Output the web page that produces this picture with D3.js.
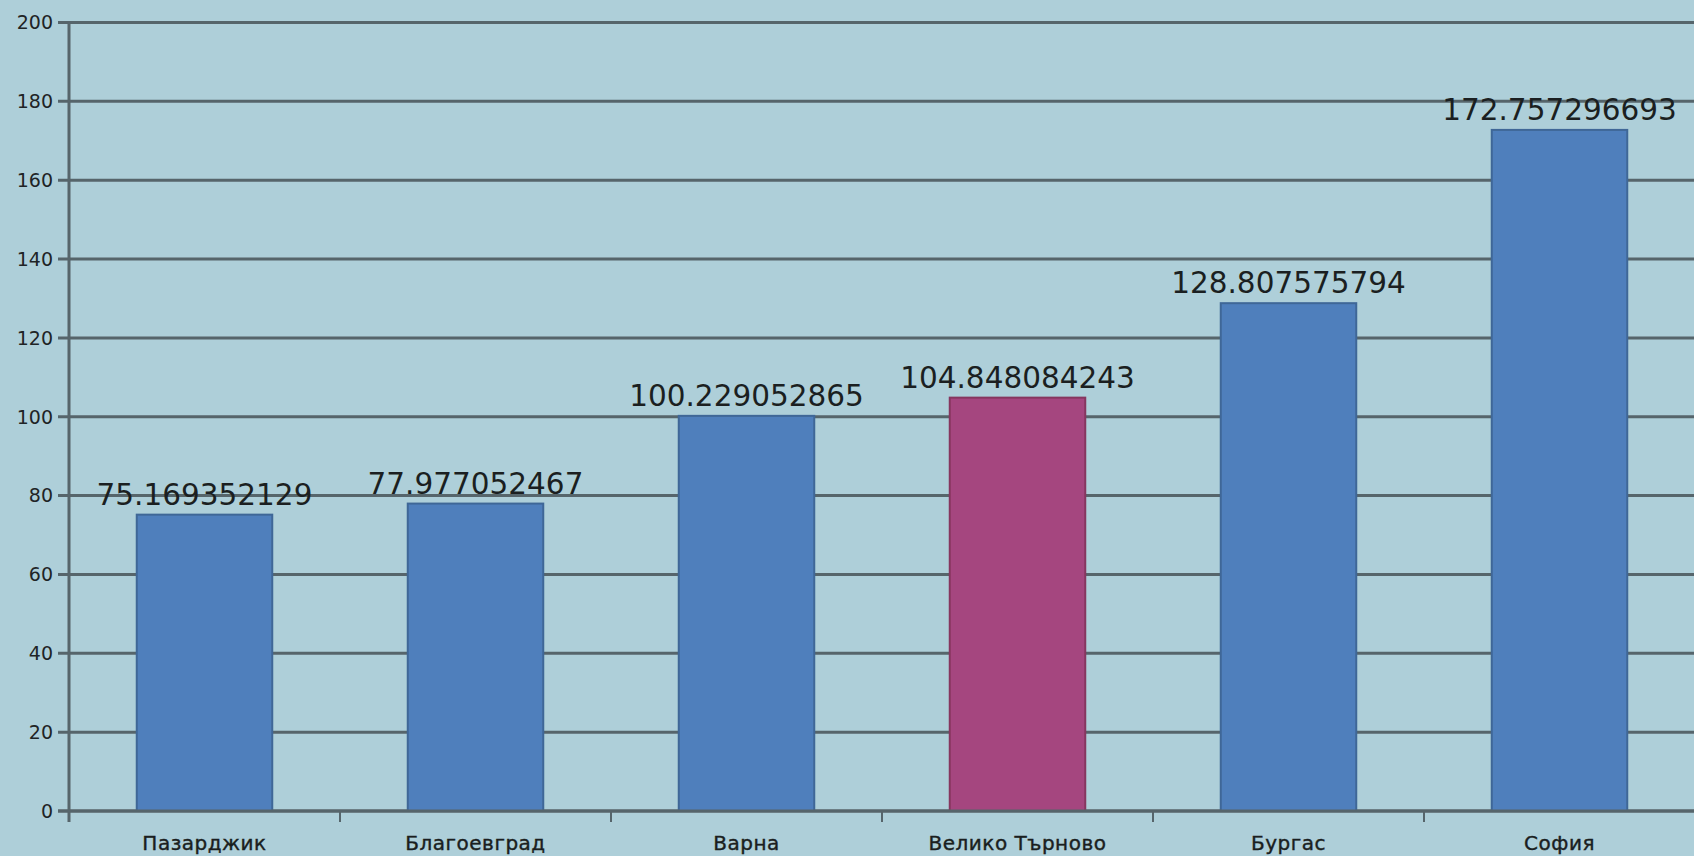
<!DOCTYPE html>
<html>
<head>
<meta charset="utf-8">
<script src="https://cdn.jsdelivr.net/npm/d3@7"></script>
<style>
  html, body { margin: 0; padding: 0; background: #aecfd9; }
  svg { display: block; }
</style>
</head>
<body>
<svg id="chart" width="1694" height="856"></svg>
<script>
// Cities and their index values
const cities = ["Пазарджик", "Благоевград", "Варна", "Велико Търново", "Бургас", "София"];
const values = [75.169352129, 77.977052467, 100.229052865, 104.848084243, 128.807575794, 172.757296693];
const valueLabels = ["75.169352129", "77.977052467", "100.229052865", "104.848084243", "128.807575794", "172.757296693"];
const highlighted = ["Велико Търново"];
const yTicks = [0, 20, 40, 60, 80, 100, 120, 140, 160, 180, 200];

const W = 1694, H = 856;
const margin = { left: 69, top: 22.5, bottom: 811 };
const plotRight = 69 + 6 * 271;

const svg = d3.select("#chart");

const x = d3.scaleBand()
  .domain(cities)
  .range([margin.left, plotRight])
  .paddingInner(0.5)
  .paddingOuter(0.25);

const y = d3.scaleLinear()
  .domain([0, 200])
  .range([margin.bottom, margin.top]);

const gridColor = "#56656b";

// Horizontal gridlines with short ticks to the left of the axis
svg.append("g")
  .selectAll("line")
  .data(yTicks)
  .join("line")
  .attr("x1", margin.left - 11)
  .attr("x2", W)
  .attr("y1", d => y(d))
  .attr("y2", d => y(d))
  .attr("stroke", gridColor)
  .attr("stroke-width", 3);

// Y tick labels
svg.append("g")
  .selectAll("text")
  .data(yTicks)
  .join("text")
  .attr("x", 53)
  .attr("y", d => y(d))
  .attr("dy", "0.36em")
  .attr("text-anchor", "end")
  .attr("font-family", "DejaVu Sans")
  .attr("font-size", 19)
  .attr("fill", "#1f2426")
  .text(d => d);

// Vertical axis line
svg.append("line")
  .attr("x1", margin.left).attr("x2", margin.left)
  .attr("y1", y(200)).attr("y2", margin.bottom + 11)
  .attr("stroke", gridColor)
  .attr("stroke-width", 3);

// Category boundary ticks under the baseline
const boundaries = cities.map((c, i) => margin.left + (i + 1) * x.step());
svg.append("g")
  .selectAll("line")
  .data(boundaries)
  .join("line")
  .attr("x1", d => d).attr("x2", d => d)
  .attr("y1", margin.bottom)
  .attr("y2", margin.bottom + 11)
  .attr("stroke", gridColor)
  .attr("stroke-width", 2);

// Bars
svg.append("g")
  .selectAll("rect")
  .data(cities)
  .join("rect")
  .attr("x", d => x(d))
  .attr("y", (d, i) => y(values[i]))
  .attr("width", x.bandwidth())
  .attr("height", (d, i) => y(0) - y(values[i]))
  .attr("fill", d => highlighted.includes(d) ? "#a5467f" : "#4f7fbc")
  .attr("stroke", d => highlighted.includes(d) ? "#86365f" : "#3f6797")
  .attr("stroke-width", 2);

// Value labels above bars
svg.append("g")
  .selectAll("text")
  .data(cities)
  .join("text")
  .attr("x", d => x(d) + x.bandwidth() / 2)
  .attr("y", (d, i) => y(values[i]) - 10)
  .attr("text-anchor", "middle")
  .attr("font-family", "DejaVu Sans")
  .attr("font-size", 29.5)
  .attr("fill", "#1b1f21")
  .text((d, i) => valueLabels[i]);

// Baseline redrawn over the bars' lower edges
svg.append("line")
  .attr("x1", margin.left - 11).attr("x2", W)
  .attr("y1", margin.bottom).attr("y2", margin.bottom)
  .attr("stroke", gridColor)
  .attr("stroke-width", 3);

// Category labels
svg.append("g")
  .selectAll("text")
  .data(cities)
  .join("text")
  .attr("x", d => x(d) + x.bandwidth() / 2)
  .attr("y", 850)
  .attr("text-anchor", "middle")
  .attr("font-family", "DejaVu Sans")
  .attr("font-size", 20)
  .attr("letter-spacing", 0.5)
  .attr("fill", "#1a1e20")
  .attr("stroke", "#1a1e20")
  .attr("stroke-width", 0.4)
  .text(d => d);
</script>
</body>
</html>
